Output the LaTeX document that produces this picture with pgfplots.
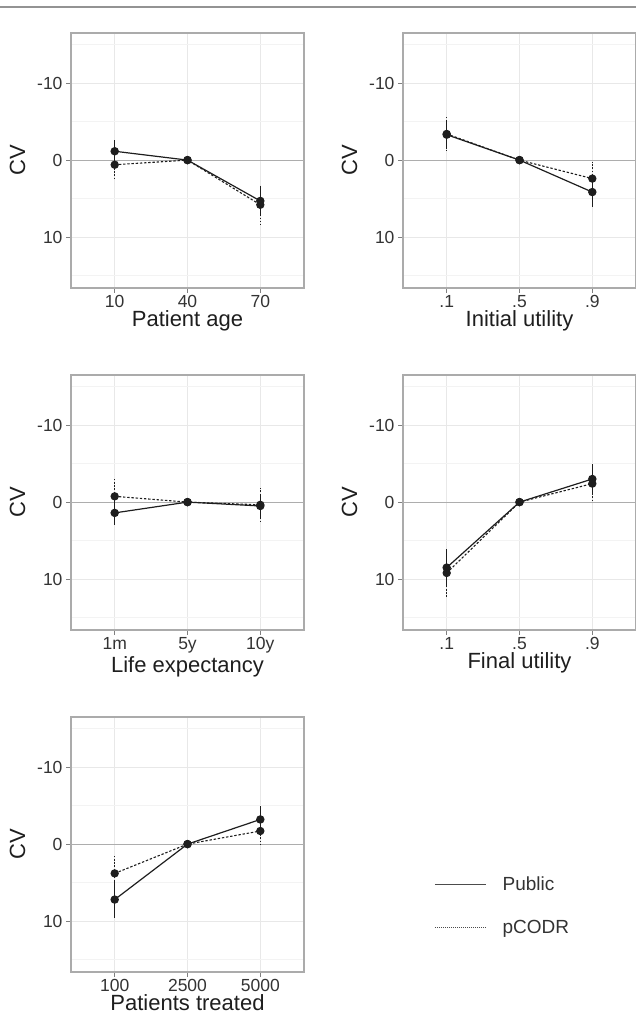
\documentclass[border=0pt]{standalone}
\usepackage{fontspec}
\setmainfont{Liberation Sans}
\usepackage{pgfplots}
\pgfplotsset{compat=1.18}

\definecolor{ink}{HTML}{1E1E1E}
\definecolor{boxgray}{HTML}{ABABAB}
\definecolor{gridmaj}{HTML}{E8E8E8}
\definecolor{gridmin}{HTML}{F3F3F3}
\definecolor{zerogray}{HTML}{ADADAD}
\definecolor{ticktxt}{HTML}{333333}

\pgfplotsset{
  panel/.style={
    scale only axis, width=233pt, height=255pt, anchor=north west,
    xmin=-0.6, xmax=2.6, xtick={0,1,2},
    y dir=reverse, ymin=-16.5, ymax=16.6,
    ytick={-10,0,10}, yticklabels={-10,0,10},
    minor ytick={-15,-5,5,15},
    grid=both, major grid style={gridmaj, line width=0.9pt}, minor grid style={gridmin, line width=0.7pt},
    axis line style={boxgray, line width=1.1pt},
    tick align=outside, xtick pos=lower, ytick pos=left,
    major tick length=5pt, minor tick length=0pt, tick style={gray, line width=0.9pt},
    ticklabel style={font=\fontsize{17.5}{20}\selectfont, text=ticktxt},
    xticklabel style={inner ysep=2pt},
    label style={font=\fontsize{22}{25}\selectfont, text=ink},
    ylabel={CV}, ylabel style={yshift=5pt},
    xlabel style={inner ysep=1pt, yshift=0pt},
    clip=false,
  },
  pub/.style={ink, line width=1.2pt, mark=*, mark size=3.6pt,
    error bars/.cd, y dir=both, y explicit, error mark=none,
    error bar style={line width=1.3pt, solid, ink}},
  pcodr/.style={ink, line width=1.1pt, dash pattern=on 2.4pt off 1.8pt, mark=*, mark size=3.6pt, mark options={solid},
    error bars/.cd, y dir=both, y explicit, error mark=none,
    error bar style={line width=1.1pt, dash pattern=on 1.6pt off 1.6pt, ink}},
  zero/.style={zerogray, line width=1.1pt, forget plot},
}

\begin{document}
\begin{tikzpicture}
\useasboundingbox (0pt,0pt) rectangle (636pt,1023pt);
\draw[gray!85, line width=2pt] (0pt,1015.5pt) -- (636pt,1015.5pt);

% Patient age
\begin{axis}[panel, at={(71pt,990pt)}, xticklabels={10,40,70}, xlabel={Patient age}]
\addplot[zero] coordinates {(-0.6,0) (2.6,0)};
\addplot[pcodr] coordinates {(0,0.6) +- (0,1.9) (1,0) +- (0,0) (2,5.8) +- (0,2.5)};
\addplot[pub] coordinates {(0,-1.15) +- (0,1.45) (1,0) +- (0,0) (2,5.3) +- (0,2.0)};
\end{axis}

% Initial utility
\begin{axis}[panel, at={(403pt,990pt)}, xticklabels={.1,.5,.9}, xlabel={Initial utility}]
\addplot[zero] coordinates {(-0.6,0) (2.6,0)};
\addplot[pcodr] coordinates {(0,-3.4) +- (0,2.2) (1,0) +- (0,0) (2,2.4) +- (0,2.2)};
\addplot[pub] coordinates {(0,-3.3) +- (0,1.8) (1,0) +- (0,0) (2,4.15) +- (0,1.9)};
\end{axis}

% Life expectancy
\begin{axis}[panel, at={(71pt,648pt)}, xticklabels={1m,5y,10y}, xlabel={Life expectancy}]
\addplot[zero] coordinates {(-0.6,0) (2.6,0)};
\addplot[pcodr] coordinates {(0,-0.75) +- (0,2.25) (1,0) +- (0,0) (2,0.35) +- (0,2.2)};
\addplot[pub] coordinates {(0,1.4) +- (0,1.6) (1,0) +- (0,0) (2,0.5) +- (0,1.5)};
\end{axis}

% Final utility
\begin{axis}[panel, at={(403pt,648pt)}, xticklabels={.1,.5,.9}, xlabel={Final utility}]
\addplot[zero] coordinates {(-0.6,0) (2.6,0)};
\addplot[pcodr] coordinates {(0,9.2) +- (0,3.2) (1,0) +- (0,0) (2,-2.4) +- (0,2.2)};
\addplot[pub] coordinates {(0,8.5) +- (0,2.4) (1,0) +- (0,0) (2,-3.0) +- (0,2.0)};
\end{axis}

% Patients treated
\begin{axis}[panel, at={(71pt,306pt)}, xticklabels={100,2500,5000}, xlabel={Patients treated},
  legend style={draw=none, fill=none, at={(axis description cs:1.545,0.39)}, anchor=north west,
    font=\fontsize{19}{22}\selectfont, text=ticktxt, row sep=24pt,
    /tikz/every odd column/.style={column sep=14pt}},
  legend cell align=left,
  legend image code/.code={\draw[#1] (0pt,0pt) -- (51pt,0pt);}]
\addplot[zero] coordinates {(-0.6,0) (2.6,0)};
\addplot[forget plot, pcodr] coordinates {(0,3.8) +- (0,2.3) (1,0) +- (0,0) (2,-1.7) +- (0,2.0)};
\addplot[forget plot, pub] coordinates {(0,7.2) +- (0,2.45) (1,0) +- (0,0) (2,-3.2) +- (0,1.7)};
\addlegendimage{black!70, line width=1.4pt}
\addlegendentry{Public}
\addlegendimage{black!70, line width=1.1pt, dash pattern=on 0.8pt off 1.2pt}
\addlegendentry{pCODR}
\end{axis}
\end{tikzpicture}
\end{document}
